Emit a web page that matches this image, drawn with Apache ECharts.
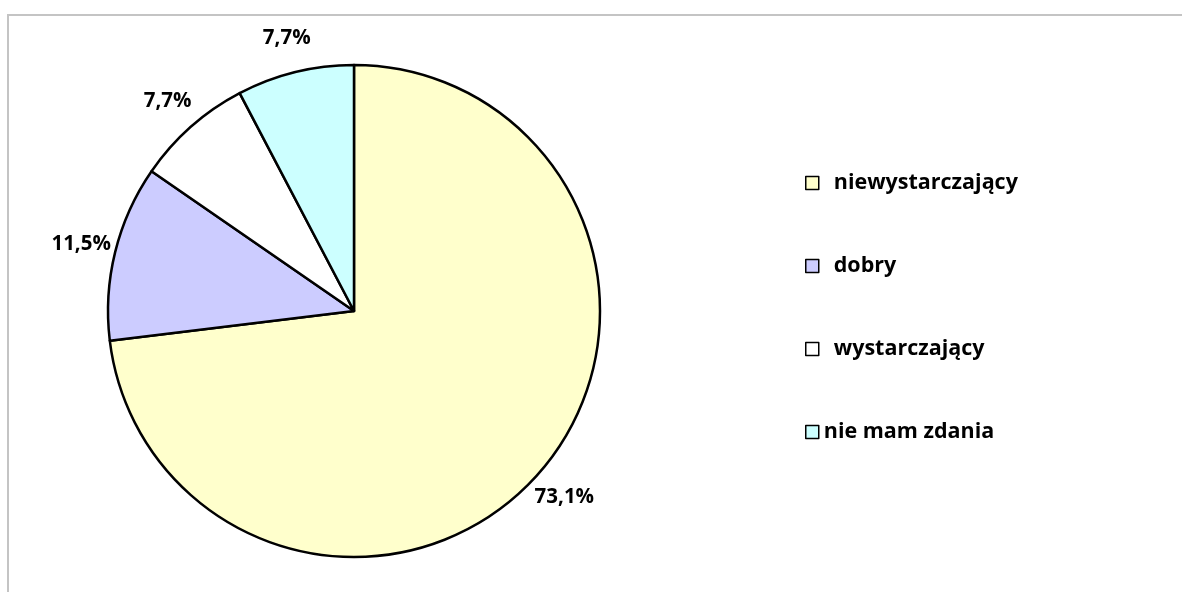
<!DOCTYPE html>
<html><head><meta charset="utf-8">
<script src="https://cdn.jsdelivr.net/npm/echarts@6/dist/echarts.min.js"></script>
<style>html,body{margin:0;padding:0;background:#fff}#c{width:1182px;height:592px}</style>
</head><body><div id="c"></div>
<script>
const categories = ['niewystarczający', 'dobry', 'wystarczający', 'nie mam zdania'];
const values = [19, 3, 2, 2];
const percentLabels = ['73,1%', '11,5%', '7,7%', '7,7%'];
const colors = ['#FFFFCC', '#CCCCFF', '#FFFFFF', '#CCFFFF'];

const font = '"Open Sans", Lato, sans-serif';
const chart = echarts.init(document.getElementById('c'));
const pieData = categories.map((n, i) => ({ name: n, value: values[i], itemStyle: { color: colors[i] } }));
const labelData = categories.map((n, i) => ({ name: n, value: values[i], label: { formatter: percentLabels[i] } }));

chart.setOption({
  animation: false,
  backgroundColor: '#fff',
  graphic: [{
    type: 'rect', shape: { x: 8, y: 15, width: 1200, height: 600 },
    style: { fill: 'none', stroke: '#c4c4c4', lineWidth: 2 }, silent: true, z: -1
  }],
  legend: {
    orient: 'vertical', left: 805, top: 172, padding: 0,
    itemWidth: 13, itemHeight: 13, itemGap: 61,
    icon: 'rect',
    itemStyle: { borderColor: '#000', borderWidth: 1.5 },
    data: categories.map((n, i) => ({
      name: n,
      textStyle: { padding: [0, 0, 0, i === 3 ? 0 : 10] }
    })),
    textStyle: { fontFamily: font, fontWeight: 'bold', fontSize: 21.5, color: '#000' }
  },
  series: [{
    type: 'pie', center: [354, 311], radius: 246,
    startAngle: 90, clockwise: true,
    label: { show: false }, labelLine: { show: false },
    itemStyle: { borderColor: '#000', borderWidth: 2.5 },
    emphasis: { disabled: true },
    data: pieData
  }, {
    type: 'pie', center: [354, 311], radius: [246, 310],
    startAngle: 90, clockwise: true, silent: true,
    legendHoverLink: false,
    itemStyle: { color: 'rgba(0,0,0,0)', borderWidth: 0 },
    label: { show: true, position: 'inside', fontFamily: font, fontWeight: 'bold', fontSize: 20.5, color: '#000' },
    labelLine: { show: false },
    emphasis: { disabled: true },
    data: labelData
  }]
});
</script></body></html>
